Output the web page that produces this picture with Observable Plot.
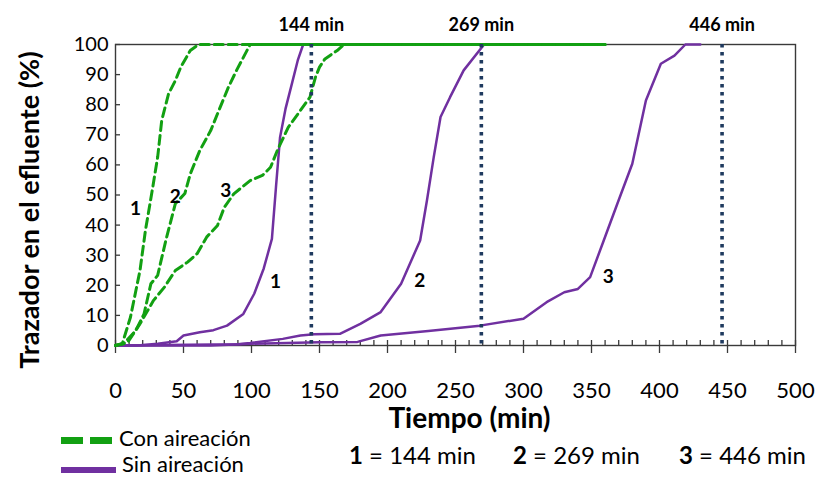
<!DOCTYPE html>
<html><head><meta charset="utf-8">
<script src="https://cdn.jsdelivr.net/npm/d3@7"></script>
<script src="https://cdn.jsdelivr.net/npm/@observablehq/plot@0.6"></script>
<style>
body{margin:0;background:#fff;font-family:Lato,sans-serif;color:#000;}
#wrap{position:relative;width:818px;height:477px;overflow:hidden;}
#legend{position:absolute;left:0;top:425px;width:818px;height:52px;}
.sw{position:absolute;}
.lt{position:absolute;white-space:nowrap;font-size:22px;line-height:22px;}
.nt{position:absolute;white-space:nowrap;font-size:24px;line-height:24px;}
</style></head>
<body>
<div id="wrap"><div id="chart"></div>
<div id="legend">
  <div class="sw" style="left:61px;top:12px;width:22px;height:7px;background:#12a012"></div>
  <div class="sw" style="left:90px;top:12px;width:22px;height:7px;background:#12a012"></div>
  <div class="lt" style="left:119px;top:2px">Con aireación</div>
  <div class="sw" style="left:61px;top:42px;width:55px;height:6px;background:#7030a0"></div>
  <div class="lt" style="left:122px;top:28px">Sin aireación</div>
  <div class="nt" style="left:349px;top:18px"><b>1</b> = 144 min</div>
  <div class="nt" style="left:513px;top:18px"><b>2</b> = 269 min</div>
  <div class="nt" style="left:679px;top:18px"><b>3</b> = 446 min</div>
</div>
</div>
<script>
// Con aireación (green dashed)
const conT1 = [0, 5, 11, 18, 22, 27, 31, 34, 39, 44, 48, 55, 61, 360];
const conV1 = [0, 0.6, 9.4, 24.9, 38.2, 51.5, 62.6, 74.8, 83.6, 88, 92.5, 98, 100, 100];
const conT2 = [0, 6, 15, 21, 26, 31, 37, 44, 51, 55, 62, 70, 77, 83, 89, 99, 360];
const conV2 = [0, 0.6, 5, 10.5, 20.5, 23.3, 34.9, 47.1, 50.5, 57, 64.8, 71.4, 79.2, 85.8, 91.4, 100, 100];
const conT3 = [0, 9, 18, 28, 36, 44, 53, 60, 67, 75, 80, 87, 99, 108, 114, 119, 127, 136, 143, 147, 150, 154, 163, 168, 360];
const conV3 = [0, 1.1, 7.2, 15, 19.4, 24.9, 27.7, 30.5, 36, 39.9, 45.9, 50.4, 54.8, 56.5, 59.2, 64.8, 72.5, 78.1, 82.5, 89.1, 92.5, 95.2, 98, 100, 100];
// Sin aireación (purple solid)
const sinT1 = [0, 16, 31, 45, 50, 62, 72, 82, 94, 102, 109, 115, 118, 121, 125, 130, 134, 138, 300];
const sinV1 = [0, 0, 0.6, 1.4, 3.3, 4.4, 5.1, 6.6, 10.5, 17.2, 25.6, 35.4, 52.6, 69.2, 78.6, 87.5, 94.7, 100, 100];
const sinT2 = [0, 90, 99, 123, 136, 146, 165, 180, 195, 210, 224, 229, 234, 239, 246, 256, 271, 350];
const sinV2 = [0, 0.4, 0.8, 2.2, 3.3, 3.7, 3.9, 7.2, 11.1, 20.5, 34.9, 48.2, 62.6, 75.9, 82.5, 91.4, 100, 100];
const sinT3 = [0, 70, 100, 150, 178, 195, 230, 268, 300, 317, 330, 340, 349, 359, 369, 380, 390, 401, 411, 419, 430];
const sinV3 = [0, 0, 0.6, 1.1, 1.2, 3.3, 4.8, 6.6, 8.9, 14.4, 17.7, 18.8, 22.7, 34.9, 47.1, 60.4, 81.4, 93.6, 96.3, 100, 100];
// vertical markers
const markerT = [144, 269, 446];
const markerLabels = ["144 min", "269 min", "446 min"];
// curve labels
const labelT = [14.7, 44, 81, 117.6, 223.8, 362.3];
const labelV = [45.4, 49.3, 51.5, 21, 21.6, 22.7];
const labelTxt = ["1", "2", "3", "1", "2", "3"];
const xTicks = [0, 50, 100, 150, 200, 250, 300, 350, 400, 450, 500];
const yTicks = [0, 10, 20, 30, 40, 50, 60, 70, 80, 90, 100];

const toRows = (T, V, s) => T.map((t, i) => ({t, v: V[i], s}));
const conRows = [...toRows(conT1, conV1, "c1"), ...toRows(conT2, conV2, "c2"), ...toRows(conT3, conV3, "c3")];
const sinRows = [...toRows(sinT1, sinV1, "s1"), ...toRows(sinT2, sinV2, "s2"), ...toRows(sinT3, sinV3, "s3")];
const markers = markerT.map((t, i) => ({t, label: markerLabels[i]}));
const labels = labelT.map((t, i) => ({t, v: labelV[i], text: labelTxt[i]}));
const minorTicks = d3.range(0, 501, 10);

const chart = Plot.plot({
  width: 818, height: 477,
  marginLeft: 115, marginRight: 23, marginTop: 44, marginBottom: 132,
  style: {fontFamily: "Lato, sans-serif", color: "#000", background: "#fff"},
  x: {domain: [0, 500], label: null},
  y: {domain: [0, 100], label: null},
  marks: [
    Plot.frame({stroke: "#3a3a3a", strokeWidth: 1.4}),
    Plot.axisX({ticks: xTicks, tickSize: 8, tickPadding: 29, fontSize: 22, stroke: "#3a3a3a", strokeWidth: 1.3}),
    Plot.axisX({ticks: minorTicks, tickSize: -5, tickFormat: () => "", stroke: "#3a3a3a", strokeWidth: 1.3}),
    Plot.axisY({ticks: yTicks, tickSize: 0, tickPadding: 7, fontSize: 20}),
    Plot.axisY({ticks: yTicks, tickSize: -5, tickFormat: () => "", stroke: "#3a3a3a", strokeWidth: 1.3}),
    Plot.line(sinRows, {x: "t", y: "v", z: "s", stroke: "#7030a0", strokeWidth: 2.5}),
    Plot.line(conRows, {x: "t", y: "v", z: "s", stroke: "#12a012", strokeWidth: 3, strokeDasharray: "9,5"}),
    Plot.ruleX(markers, {x: "t", stroke: "#1f3a5f", strokeWidth: 3.6, strokeDasharray: "3.6,4.4"}),
    Plot.text(markers, {x: "t", text: "label", frameAnchor: "top", lineAnchor: "middle", textAnchor: "middle", dy: -19, fontSize: 18, fontWeight: "bold", fill: "#000"}),
    Plot.text(labels, {x: "t", y: "v", text: "text", fontSize: 19, fontWeight: "bold", fill: "#000"}),
    Plot.text(["Tiempo (min)"], {frameAnchor: "bottom", lineAnchor: "middle", textAnchor: "middle", dy: 74, dx: 14, fontSize: 28, fontWeight: "bold", fill: "#000"}),
    Plot.text(["Trazador en el efluente (%)"], {frameAnchor: "left", lineAnchor: "middle", textAnchor: "middle", dx: -85, dy: 15, rotate: -90, fontSize: 27, fontWeight: "bold", fill: "#000"})
  ]
});
document.getElementById("chart").appendChild(chart);
</script>
</body></html>
